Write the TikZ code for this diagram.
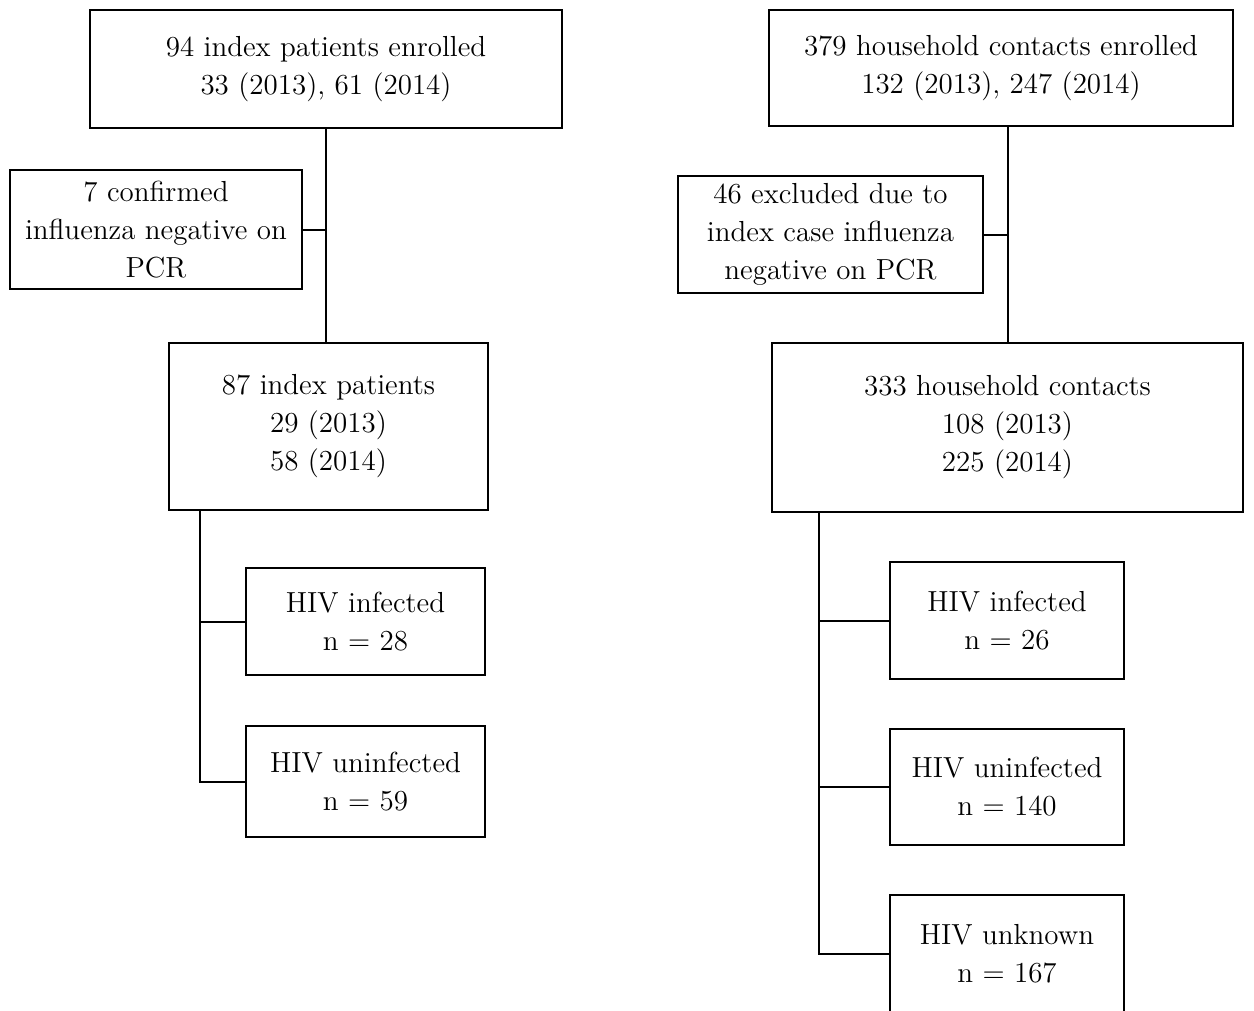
\documentclass[tikz,border=0pt]{standalone}
\tikzset{box/.style={draw, line width=1pt, align=center, inner sep=0pt,
    font=\fontsize{14.5}{19}\selectfont}}
\begin{document}
\begin{tikzpicture}[x=0.5pt,y=-0.5pt]
        \clip (0,0) rectangle (1254,1011);
        %% Index patients
        \node[box, minimum width=236pt, minimum height=59pt] (enrol) at (326,69)
            {94 index patients enrolled\\33 (2013), 61 (2014)};
        \node[box, minimum width=146pt, minimum height=59.5pt] (excl) at (156,229.5)
            {7 confirmed\\influenza negative on\\PCR};
        \node[box, minimum width=159.5pt, minimum height=83.5pt] (idx) at (328.5,426.5)
            {87 index patients\\29 (2013)\\58 (2014)};
        \node[box, minimum width=119.5pt, minimum height=53.5pt] (inf) at (365.5,621.5)
            {HIV infected\\n = 28};
        \node[box, minimum width=119.5pt, minimum height=55.5pt] (uninf) at (365.5,781.5)
            {HIV uninfected\\n = 59};
        %% Household contacts
        \node[box, minimum width=232pt, minimum height=58pt] (cont) at (1001,68)
            {379 household contacts enrolled\\132 (2013), 247 (2014)};
        \node[box, minimum width=152.5pt, minimum height=58.5pt] (excltwo) at (830.5,234.5)
            {46 excluded due to\\index case influenza\\negative on PCR};
        \node[box, minimum width=235.5pt, minimum height=84.5pt] (cnt) at (1007.5,427.5)
            {333 household contacts\\108 (2013)\\225 (2014)};
        \node[box, minimum width=117pt, minimum height=58.5pt] (cinf) at (1007,620.5)
            {HIV infected\\n = 26};
        \node[box, minimum width=117pt, minimum height=58pt] (cuninf) at (1007,787)
            {HIV uninfected\\n = 140};
        \node[box, minimum width=117pt, minimum height=58.5pt] (cunk) at (1007,953.5)
            {HIV unknown\\n = 167};
        %% Connectors
        \draw[line width=1pt] (enrol.south) -- (enrol.south |- idx.north);
        \draw[line width=1pt] (excl.east) -- (excl.east -| enrol.south);
        \draw[line width=1pt] ([xshift=16pt]idx.south west) |- (inf.west);
        \draw[line width=1pt] ([xshift=16pt]idx.south west) |- (uninf.west);
        \draw[line width=1pt] (cont.south -| cnt.north) -- (cnt.north);
        \draw[line width=1pt] (excltwo.east) -- (excltwo.east -| cnt.north);
        \draw[line width=1pt] ([xshift=24pt]cnt.south west) |- (cinf.west);
        \draw[line width=1pt] ([xshift=24pt]cnt.south west) |- (cuninf.west);
        \draw[line width=1pt] ([xshift=24pt]cnt.south west) |- (cunk.west);
    \end{tikzpicture}
\end{document}
